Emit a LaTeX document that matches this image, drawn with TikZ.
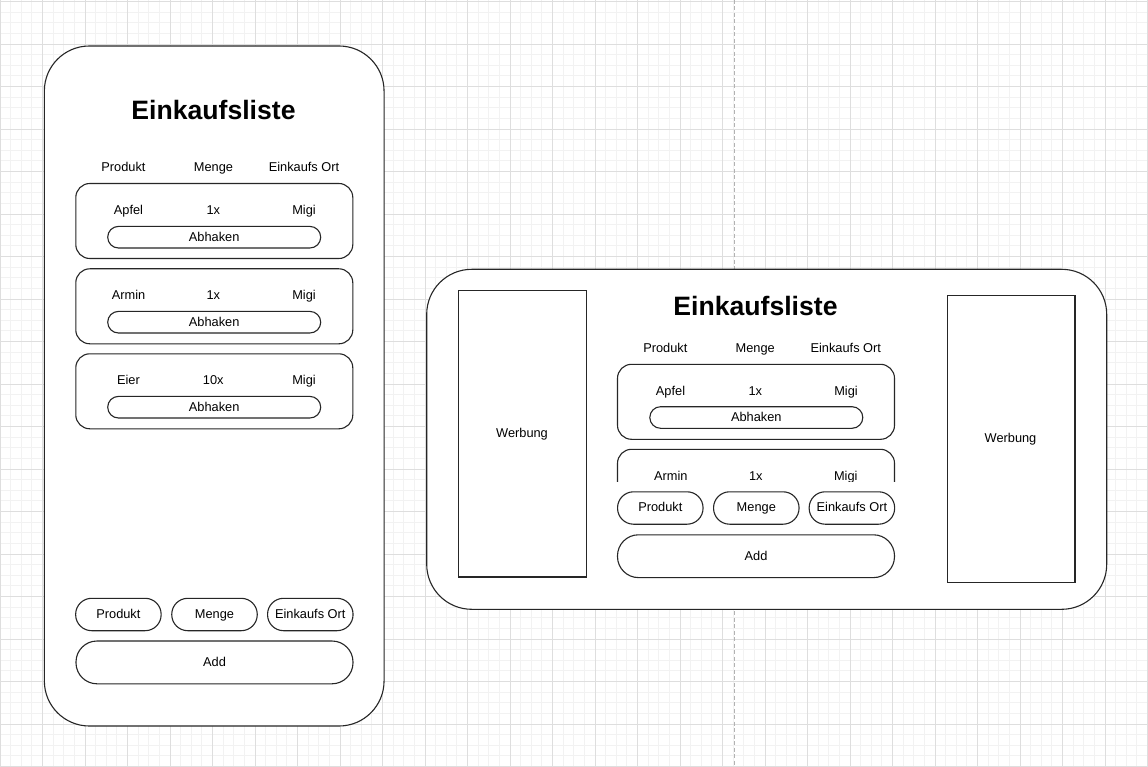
\documentclass[tikz,border=0pt]{standalone}
\usepackage{fontspec}
\setmainfont{Liberation Sans}
\begin{document}
\begin{tikzpicture}[x=1pt,y=-1pt,
  minorgrid/.style={draw=black!5,line width=0.8pt},
  majorgrid/.style={draw=black!13,line width=0.8pt},
  pagebreak/.style={draw=black!30,line width=0.9pt,dash pattern=on 4pt off 2.5pt},
  phone/.style={draw=black!85,fill=white,line width=1.1pt,rounded corners=45pt,inner sep=0pt,outer sep=0pt},
  card/.style={draw=black!85,fill=white,line width=1.1pt,rounded corners=14pt,inner sep=0pt,outer sep=0pt,minimum width=277pt,minimum height=75pt},
  abh/.style={draw=black!85,fill=white,line width=1.1pt,rounded corners=10.8pt,inner sep=0pt,outer sep=0pt,minimum width=213pt,minimum height=21.6pt},
  inbtn/.style={draw=black!85,fill=white,line width=1.1pt,rounded corners=16pt,inner sep=0pt,outer sep=0pt,minimum width=85.5pt,minimum height=32.4pt},
  addbtn/.style={draw=black!85,fill=white,line width=1.1pt,rounded corners=21pt,inner sep=0pt,outer sep=0pt,minimum width=277pt,minimum height=42.8pt},
  adbox/.style={draw=black!85,fill=white,line width=1.1pt,inner sep=0pt,outer sep=0pt,minimum width=127.5pt,minimum height=286.5pt},
  lbl/.style={anchor=base,inner sep=0pt,font=\fontsize{12.8}{15}\selectfont},
  ttl/.style={anchor=base,inner sep=0pt,font=\fontsize{26.6}{31}\selectfont\bfseries}
]
\useasboundingbox (0,0) rectangle (1148,767);
\fill[white] (0,0) rectangle (1148,767);
% grid
\foreach \i in {0,...,108} {\draw[minorgrid] ({\i*10.625},0) -- ({\i*10.625},767);}
\foreach \i in {0,...,72} {\draw[minorgrid] (0,{1.5+\i*10.625}) -- (1148,{1.5+\i*10.625});}
\foreach \i in {0,...,27} {\draw[majorgrid] ({\i*42.5},0) -- ({\i*42.5},767);}
\foreach \i in {0,...,18} {\draw[majorgrid] (0,{1.5+\i*42.5}) -- (1148,{1.5+\i*42.5});}
\coordinate (pbT) at (734.5,0);
\coordinate (pbB) at (734.5,767);
\draw[pagebreak] (pbT) -- (pbB);

% ===== left phone =====
\node[phone,minimum width=339.7pt,minimum height=680pt] (lphone) at (214.2,386) {};
\node[ttl] (ltitle) at (213.5,120) {Einkaufsliste};
\node[lbl] (lh1) at (123.5,171.5) {Produkt};
\node[lbl] (lh2) at (213.5,171.5) {Menge};
\node[lbl] (lh3) at (304,171.5) {Einkaufs Ort};

\node[card] (lc1) at (214.3,221) {};
\node[lbl] (lc1a) at (128.5,214.5) {Apfel};
\node[lbl] (lc1b) at (213.3,214.5) {1x};
\node[lbl] (lc1c) at (304,214.5) {Migi};
\node[abh] (lb1) at (214.2,237.2) {};
\node[lbl] (lb1t) at (214.2,241.8) {Abhaken};

\node[card] (lc2) at (214.3,306.3) {};
\node[lbl] (lc2a) at (128.5,299.6) {Armin};
\node[lbl] (lc2b) at (213.3,299.6) {1x};
\node[lbl] (lc2c) at (304,299.6) {Migi};
\node[abh] (lb2) at (214.2,322.2) {};
\node[lbl] (lb2t) at (214.2,326.8) {Abhaken};

\node[card] (lc3) at (214.3,391.3) {};
\node[lbl] (lc3a) at (128.5,384.6) {Eier};
\node[lbl] (lc3b) at (213.3,384.6) {10x};
\node[lbl] (lc3c) at (304,384.6) {Migi};
\node[abh] (lb3) at (214.2,407.2) {};
\node[lbl] (lb3t) at (214.2,411.8) {Abhaken};

\node[inbtn] (li1) at (118.4,614.5) {};
\node[lbl] (li1t) at (118.4,618.6) {Produkt};
\node[inbtn] (li2) at (214.5,614.5) {};
\node[lbl] (li2t) at (214.5,618.6) {Menge};
\node[inbtn] (li3) at (310.3,614.5) {};
\node[lbl] (li3t) at (310.3,618.6) {Einkaufs Ort};
\node[addbtn] (ladd) at (214.5,662.4) {};
\node[lbl] (laddt) at (214.5,666.6) {Add};

% ===== right phone =====
\node[phone,minimum width=680pt,minimum height=340pt] (rphone) at (766.7,439.3) {};
\node[adbox] (rad1) at (522.4,433.7) {};
\node[lbl] (rad1t) at (522,437.5) {Werbung};
\node[adbox] (rad2) at (1011.2,439) {};
\node[lbl] (rad2t) at (1010.5,442.6) {Werbung};

\node[ttl] (rtitle) at (755.5,315) {Einkaufsliste};
\node[lbl] (rh1) at (665.3,352.5) {Produkt};
\node[lbl] (rh2) at (755.2,352.5) {Menge};
\node[lbl] (rh3) at (845.8,352.5) {Einkaufs Ort};

\node[card] (rc1) at (756,401.8) {};
\node[lbl] (rc1a) at (670.5,395) {Apfel};
\node[lbl] (rc1b) at (755.3,395) {1x};
\node[lbl] (rc1c) at (846,395) {Migi};
\node[abh] (rb1) at (756.3,417.5) {};
\node[lbl] (rb1t) at (756.3,421.6) {Abhaken};

\begin{scope}
  \clip (600,440) rectangle (910,481.7);
  \node[card] (rc2) at (756,486.8) {};
  \node[lbl] (rc2a) at (670.8,480) {Armin};
  \node[lbl] (rc2b) at (755.8,480) {1x};
  \node[lbl] (rc2c) at (845.8,480) {Migi};
\end{scope}

\node[inbtn] (ri1) at (660.3,508) {};
\node[lbl] (ri1t) at (660.3,511.8) {Produkt};
\node[inbtn] (ri2) at (756.3,508) {};
\node[lbl] (ri2t) at (756.3,511.8) {Menge};
\node[inbtn] (ri3) at (851.9,508) {};
\node[lbl] (ri3t) at (851.9,511.8) {Einkaufs Ort};
\node[addbtn] (radd) at (756,556.2) {};
\node[lbl] (raddt) at (756,560.8) {Add};
\end{tikzpicture}
\end{document}
